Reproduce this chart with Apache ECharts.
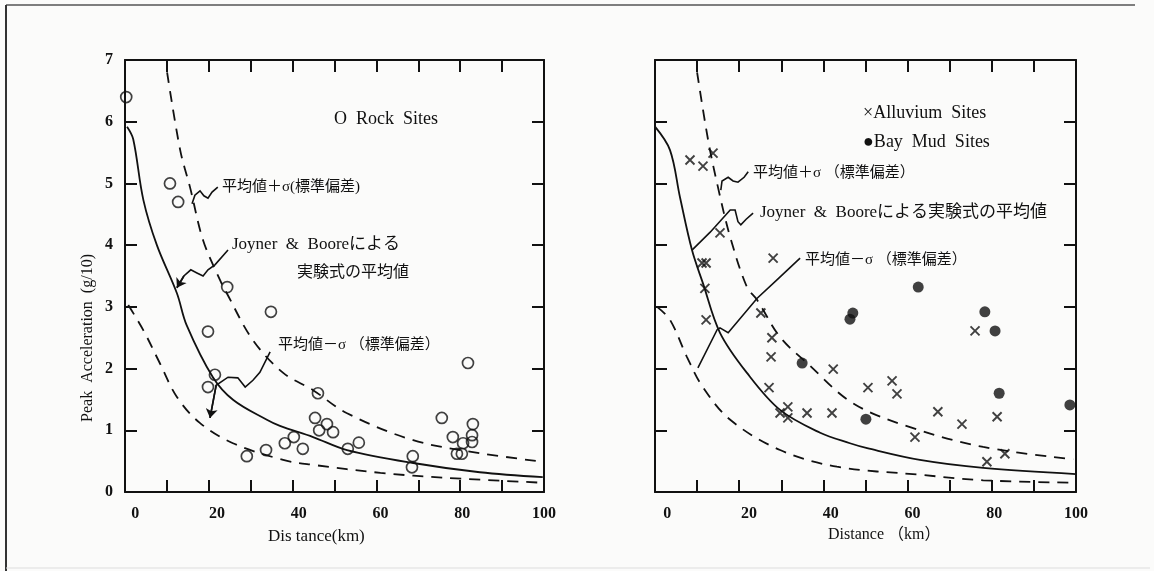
<!DOCTYPE html>
<html><head><meta charset="utf-8">
<script src="https://cdn.jsdelivr.net/npm/echarts@6/dist/echarts.min.js"></script>
<style>html,body{margin:0;padding:0;background:#fbfbfa}#c{width:1154px;height:571px}</style>
</head><body><div id="c"></div>
<script>
// ---- data (distance km, peak acceleration g/10) ----
var xTickLabels = [0, 20, 40, 60, 80, 100];
var yTickLabels = [0, 1, 2, 3, 4, 5, 6, 7];
var xTicksLeft = [-2.5, 7.75, 18, 28.25, 38.5, 48.75, 59, 69.25, 79.5, 89.75, 100];
var xTicksRight = [-3, 7.3, 17.6, 27.9, 38.2, 48.5, 58.8, 69.1, 79.4, 89.7, 100];

var rockSites = [[-2.2,6.4],[8.5,5.0],[10.5,4.7],[22.5,3.32],[33.2,2.92],[17.8,2.6],[19.5,1.9],[17.8,1.7],
  [27.3,0.58],[32.0,0.68],[36.6,0.79],[38.8,0.89],[41.0,0.7],[44.7,1.6],[44.0,1.2],[45.0,1.0],[46.9,1.1],
  [48.4,0.97],[52.0,0.7],[54.7,0.8],[67.9,0.58],[67.7,0.4],[75.0,1.2],[77.7,0.89],[78.7,0.62],[79.9,0.62],
  [80.2,0.79],[81.4,2.09],[82.4,0.81],[82.4,0.92],[82.6,1.1]];

var meanLeft = [[-2,5.92],[-0.5,5.72],[2,4.73],[5.3,4.0],[10.2,3.22],[12.6,2.7],[19,1.86],[24,1.49],[32.2,1.17],
  [35.4,1.07],[43.5,0.89],[51.8,0.68],[68,0.47],[84.3,0.32],[99.7,0.24]];
var plusLeft = [[7.8,6.8],[11,5.54],[13.4,4.94],[16.6,4.08],[20.7,3.44],[22.4,3.22],[28.8,2.46],[36.2,1.93],
  [43.5,1.65],[51.7,1.28],[68,0.84],[84.3,0.63],[99.7,0.49]];
var minusLeft = [[-1.7,3.03],[2,2.62],[6,2.09],[10.2,1.54],[15.8,1.12],[23.9,0.79],[36.2,0.52],[43.5,0.44],
  [60,0.31],[76,0.23],[99.7,0.15]];

var alluviumSites = [[5.56,5.38],[8.74,5.28],[11.2,5.49],[12.9,4.2],[25.9,3.79],[8.5,3.71],[9.5,3.71],[9.2,3.3],
  [9.5,2.79],[22.9,2.9],[25.6,2.5],[25.4,2.19],[24.9,1.69],[27.6,1.28],[29.5,1.38],[29.5,1.2],[34.2,1.28],
  [40.3,1.28],[40.6,1.99],[49.1,1.69],[55.0,1.8],[56.2,1.59],[60.6,0.89],[66.2,1.3],[72.1,1.1],[75.3,2.61],
  [80.7,1.22],[78.2,0.49],[82.6,0.62]];
var bayMudSites = [[33.0,2.09],[45.4,2.9],[44.7,2.8],[48.6,1.18],[61.4,3.32],[77.7,2.92],[80.2,2.61],[81.2,1.6],[98.5,1.41]];

var meanRight = [[-3,5.92],[0.67,5.54],[3.1,4.78],[6.05,3.92],[8.74,3.38],[12.9,2.58],[19.5,1.93],[27.6,1.33],
  [37.4,0.96],[44.7,0.79],[48.9,0.71],[61.8,0.52],[77.3,0.39],[100,0.29]];
var plusRight = [[7.3,6.8],[10.0,5.7],[12.4,4.94],[15.4,4.13],[19.5,3.32],[22.0,3.11],[27.6,2.51],[34.2,2.09],
  [45.4,1.44],[59.4,1.05],[77.3,0.73],[99.3,0.53]];
var minusRight = [[-2.5,3.0],[0.67,2.79],[4.8,2.19],[8.7,1.7],[15.4,1.17],[27.6,0.68],[41.5,0.41],[61.8,0.28],
  [77.3,0.19],[100,0.15]];

// annotation leader lines (data coordinates)
var leadPlusL = [[13.9,4.67],[14.6,4.81],[15.85,4.88],[16.8,4.80],[17.8,4.76],[18.8,4.86],[20.2,4.94]];
var leadMeanL = [[10.2,3.31],[11.9,3.50],[13.6,3.60],[15.1,3.55],[16.6,3.50],[17.8,3.60],[19.5,3.68],[22.7,3.92]];
var leadMinusL = [[18.3,1.20],[19.8,1.73],[22.7,1.86],[25.1,1.85],[26.9,1.70],[28.8,1.81],[30.5,1.94],[33.0,2.27]];
var leadPlusR = [[13.1,4.89],[13.4,5.04],[14.9,5.10],[16.1,5.04],[17.3,5.02],[18.8,5.10],[19.8,5.19]];
var leadMeanR = [[6.05,3.92],[10.5,4.21],[15.4,4.57],[16.6,4.57],[17.3,4.38],[18.0,4.33],[19.3,4.42],[21.0,4.52]];
var leadMinusR = [[7.5,2.01],[12.2,2.63],[12.9,2.66],[14.9,2.58],[22.0,3.14],[26.9,3.44],[32.5,3.79]];

// ---- chart ----
var INK = '#111';
var SERIF = "'Liberation Serif','DejaVu Serif','Noto Sans CJK JP',serif";
var chart = echarts.init(document.getElementById('c'), null, {renderer:'canvas'});

function xAx(grid, pos, min, ticks, labels) {
  return {type:'value', gridIndex:grid, position:pos, min:min, max:100,
    axisLine:{show:true, onZero:false, lineStyle:{color:INK, width:2}},
    axisTick:{show:true, inside:true, length:12, customValues:ticks, lineStyle:{color:INK, width:2}},
    axisLabel:{show:labels, customValues:xTickLabels, margin:14, color:INK, fontFamily:SERIF, fontSize:16, fontWeight:'bold'},
    splitLine:{show:false}};
}
function yAx(grid, pos, labels) {
  return {type:'value', gridIndex:grid, position:pos, min:0, max:7, interval:1,
    axisLine:{show:true, onZero:false, lineStyle:{color:INK, width:2}},
    axisTick:{show:true, inside:true, length:12, lineStyle:{color:INK, width:2}},
    axisLabel:{show:labels, margin:12, color:INK, fontFamily:SERIF, fontSize:16, fontWeight:'bold',
      formatter:function(v){return yTickLabels.indexOf(v)>=0? String(v):'';}},
    splitLine:{show:false}};
}
function curve(xi, yi, d, dashed) {
  return {type:'line', xAxisIndex:xi, yAxisIndex:yi, data:d, smooth:0.35, symbol:'none', silent:true,
    lineStyle:{color:INK, width:1.8, type: dashed ? [11,8] : 'solid'}, z:3};
}
function lead(xi, yi, d) {
  return {type:'lines', coordinateSystem:'cartesian2d', xAxisIndex:xi, yAxisIndex:yi, polyline:true, silent:true,
    lineStyle:{color:INK, width:1.6, opacity:1}, data:[{coords:d}], z:4};
}
function arrowHead(xi, yi, d) {
  return {type:'lines', coordinateSystem:'cartesian2d', xAxisIndex:xi, yAxisIndex:yi, silent:true,
    symbol:['none','arrow'], symbolSize:9,
    lineStyle:{color:INK, width:1.6, opacity:1}, data:[{coords:[d[1], d[0]]}], z:4};
}

function txt(x, y, s, size) {
  return {type:'text', x:x, y:y, style:{text:s, fill:INK, font: (size||15)+'px '+SERIF, textVerticalAlign:'middle', textAlign:'left'}};
}

var option = {
  backgroundColor:'#fbfbfa',
  animation:false,
  grid:[{left:125, top:60, width:419, height:432}, {left:655, top:60, width:421, height:432}],
  xAxis:[xAx(0,'bottom',-2.5,xTicksLeft,true), xAx(0,'top',-2.5,xTicksLeft,false),
         xAx(1,'bottom',-3,xTicksRight,true), xAx(1,'top',-3,xTicksRight,false)],
  yAxis:[yAx(0,'left',true), yAx(0,'right',false), yAx(1,'left',false), yAx(1,'right',false)],
  series:[
    curve(0,0,meanLeft,false), curve(0,0,plusLeft,true), curve(0,0,minusLeft,true),
    curve(2,2,meanRight,false), curve(2,2,plusRight,true), curve(2,2,minusRight,true),
    {type:'scatter', name:'Rock Sites', xAxisIndex:0, yAxisIndex:0, data:rockSites, symbol:'circle', symbolSize:11,
      itemStyle:{color:'rgba(0,0,0,0)', borderColor:INK, borderWidth:1.7}, z:5},
    {type:'scatter', name:'Alluvium Sites', xAxisIndex:2, yAxisIndex:2, data:alluviumSites,
      symbol:'path://M0,0L10,10M10,0L0,10', symbolSize:9,
      itemStyle:{color:'rgba(0,0,0,0)', borderColor:INK, borderWidth:1.9}, z:5},
    {type:'scatter', name:'Bay Mud Sites', xAxisIndex:2, yAxisIndex:2, data:bayMudSites, symbol:'circle', symbolSize:11,
      itemStyle:{color:INK}, z:5},
    lead(0,0,leadPlusL), lead(0,0,leadMeanL), lead(0,0,leadMinusL),
    arrowHead(0,0,leadMeanL), arrowHead(0,0,leadMinusL),
    lead(2,2,leadPlusR), lead(2,2,leadMeanR), lead(2,2,leadMinusR)
  ],
  graphic:[
    {type:'line', shape:{x1:6, y1:5, x2:1135, y2:5}, style:{stroke:'#555', lineWidth:1.5}},
    {type:'line', shape:{x1:6, y1:5, x2:6, y2:571}, style:{stroke:'#333', lineWidth:2}},
    {type:'line', shape:{x1:6, y1:568, x2:1150, y2:568}, style:{stroke:'#ddd', lineWidth:1}},
    txt(334, 119, 'O  Rock  Sites', 18),
    txt(222, 187, '平均値＋σ(標準偏差)', 15),
    txt(232, 245, 'Joyner  &  Booreによる', 17),
    txt(297, 273, '実験式の平均値', 16),
    txt(278, 345, '平均値－σ （標準偏差）', 15),
    txt(268, 537, 'Dis tance(km)', 17),
    txt(863, 113, '×Alluvium  Sites', 18),
    txt(863, 142, '●Bay  Mud  Sites', 18),
    txt(753, 173, '平均値＋σ （標準偏差）', 15),
    txt(760, 213, 'Joyner  &  Booreによる実験式の平均値', 17),
    txt(805, 260, '平均値－σ （標準偏差）', 15),
    txt(828, 535, 'Distance （km）', 16),
    {type:'text', x:88, y:338, rotation:Math.PI/2,
      style:{text:'Peak  Acceleration  (g/10)', fill:INK, font:'16px '+SERIF, textAlign:'center', textVerticalAlign:'middle'}}
  ]
};
chart.setOption(option);
</script></body></html>
